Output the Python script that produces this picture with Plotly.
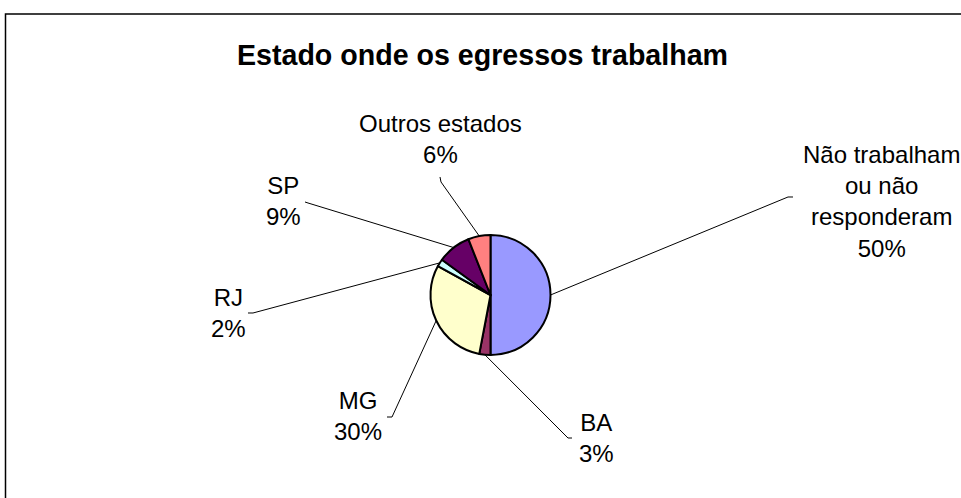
import math
import plotly.graph_objects as go

# ---- data ----
categories = ["Não trabalham<br>ou não<br>responderam", "BA", "MG", "RJ", "SP", "Outros estados"]
values = [50, 3, 30, 2, 9, 6]
colors = ["#9999FF", "#993366", "#FFFFCC", "#CCFFFF", "#660066", "#FF8080"]
title_text = "Estado onde os egressos trabalham"

# ---- layout constants (pixels in a 961x498 page) ----
W, H = 961, 498
CX, CY, R = 490.5, 295.0, 60.0
# label block centre and leader elbow points per slice
label_pos = [(881, 201), (596, 438), (358, 416), (228, 313), (283, 201), (440, 139)]
elbows = [
    [(788, 197), (793, 197)],
    [(568, 438), (572, 438)],
    [(392, 417), (387, 417)],
    [(253, 313), (248, 313)],
    [(308, 203), (305, 202)],
    [(441, 182), (440, 177)],
]

def px(x):
    return x / W

def py(y):
    return 1 - y / H

fig = go.Figure()
fig.add_trace(go.Pie(
    labels=categories,
    values=values,
    sort=False,
    direction="clockwise",
    rotation=0,
    textinfo="none",
    hoverinfo="label+percent",
    marker=dict(colors=colors, line=dict(color="black", width=2)),
    domain=dict(x=[px(CX - R), px(CX + R)], y=[py(CY + R), py(CY - R)]),
    showlegend=False,
))

total = sum(values)
shapes = []
annotations = []
cum = 0
for i, (cat, v) in enumerate(zip(categories, values)):
    mid = (cum + v / 2) / total * 2 * math.pi
    cum += v
    ex = CX + R * math.sin(mid)
    ey = CY - R * math.cos(mid)
    pts = [(ex, ey)] + elbows[i]
    path = "M " + " L ".join(f"{px(x):.5f},{py(y):.5f}" for x, y in pts)
    shapes.append(dict(type="path", xref="paper", yref="paper", path=path,
                       line=dict(color="black", width=1)))
    pct = round(v / total * 100)
    lx, ly = label_pos[i]
    annotations.append(dict(
        x=px(lx), y=py(ly), xref="paper", yref="paper",
        text=f"{cat}<br>{pct}%", showarrow=False,
        xanchor="center", yanchor="middle", align="center",
        font=dict(family="Liberation Sans, Arial, sans-serif", size=24, color="black"),
    ))

# chart frame
shapes.append(dict(type="rect", xref="paper", yref="paper",
                   x0=px(5.5), y0=py(14), x1=1.05, y1=-0.05,
                   line=dict(color="black", width=1.5)))

annotations.append(dict(
    x=px(483), y=py(55), xref="paper", yref="paper", text=f"<b>{title_text}</b>",
    showarrow=False, xanchor="center", yanchor="middle",
    font=dict(family="Liberation Sans, Arial, sans-serif", size=28.6, color="black"),
))

fig.update_layout(
    width=W, height=H,
    margin=dict(l=0, r=0, t=0, b=0),
    paper_bgcolor="white", plot_bgcolor="white",
    shapes=shapes, annotations=annotations,
)

fig.write_html("out.html", config={"displayModeBar": False},
               post_script="document.body.style.margin='0';document.body.style.overflow='hidden';")
